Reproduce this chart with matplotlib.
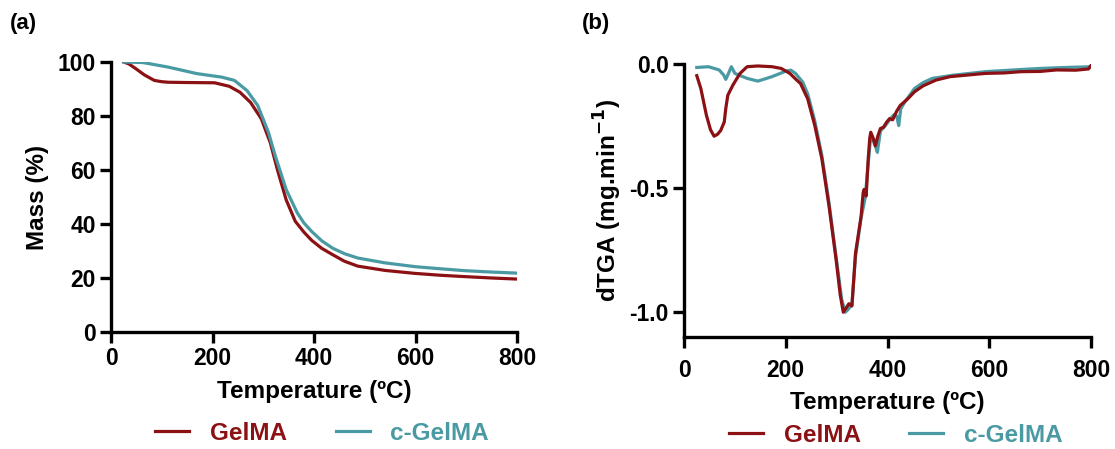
import matplotlib
matplotlib.use("Agg")
import matplotlib.pyplot as plt

plt.rcParams["font.family"] = ["Liberation Sans", "DejaVu Sans"]
plt.rcParams["font.weight"] = "bold"
plt.rcParams["mathtext.default"] = "bf"

RED = "#8c1114"
TEAL = "#4a9aa4"

# (a) TGA mass loss
tga_temp_gelma = [25, 35, 49, 65, 85, 100, 113, 150, 204, 233, 254, 275, 296, 314, 328,
                  345, 363, 380, 395, 415, 437, 460, 486, 540, 599, 650, 698, 750, 800]
tga_mass_gelma = [100, 99.3, 97.5, 95.3, 93.2, 92.7, 92.5, 92.4, 92.3, 91.0, 88.8, 85.0, 79.0,
                  70.0, 60.0, 49.0, 41.0, 37.0, 34.0, 31.0, 28.6, 26.2, 24.4, 22.8, 21.7,
                  21.0, 20.5, 20.0, 19.6]

tga_temp_cgelma = [25, 63, 113, 169, 218, 243, 268, 289, 310, 324, 345, 367, 380, 395, 415,
                   437, 460, 486, 540, 599, 650, 698, 750, 800]
tga_mass_cgelma = [100, 99.8, 98.1, 95.7, 94.4, 93.2, 89.4, 83.9, 74.0, 65.0, 52.8, 44.1,
                   40.4, 37.3, 33.8, 31.0, 29.0, 27.4, 25.6, 24.2, 23.4, 22.7, 22.2, 21.8]

# (b) derivative TGA
dtg_temp_gelma = [25, 33, 44, 52, 59, 66, 72, 79, 82, 86, 96, 110, 124, 145, 173, 191, 208,
                  220, 229, 243, 257, 271, 285, 299, 307, 313, 318, 324, 330, 337, 348, 352,
                  354, 358, 362, 365, 367, 372, 376, 381, 386, 392, 398, 404, 410, 418, 425,
                  440, 453, 470, 495, 523, 560, 592, 630, 662, 700, 732, 770, 795, 800]
dtg_rate_gelma = [-0.047, -0.099, -0.207, -0.265, -0.291, -0.283, -0.268, -0.234, -0.18,
                  -0.126, -0.085, -0.038, -0.011, -0.008, -0.011, -0.018, -0.038, -0.062,
                  -0.079, -0.14, -0.248, -0.383, -0.573, -0.79, -0.93, -1.0, -0.985, -0.966,
                  -0.975, -0.763, -0.614, -0.52, -0.505, -0.532, -0.383, -0.30, -0.275, -0.30,
                  -0.33, -0.29, -0.26, -0.255, -0.235, -0.22, -0.225, -0.19, -0.167, -0.14,
                  -0.112, -0.088, -0.065, -0.051, -0.044, -0.038, -0.036, -0.031, -0.030,
                  -0.024, -0.025, -0.02, -0.006]

dtg_temp_cgelma = [25, 48, 69, 78, 82, 88, 93, 100, 124, 145, 173, 201, 210, 219, 233, 243,
                   257, 271, 285, 299, 310, 317, 322, 330, 337, 348, 356, 362, 367, 372, 376,
                   380, 386, 395, 404, 412, 418, 422, 426, 435, 453, 470, 488, 530, 592, 640,
                   700, 750, 800]
dtg_rate_cgelma = [-0.014, -0.011, -0.024, -0.045, -0.062, -0.035, -0.011, -0.038, -0.058,
                   -0.069, -0.051, -0.028, -0.025, -0.038, -0.072, -0.12, -0.23, -0.37, -0.56,
                   -0.78, -0.95, -1.0, -0.99, -0.97, -0.776, -0.62, -0.54, -0.40, -0.29,
                   -0.31, -0.33, -0.356, -0.27, -0.25, -0.225, -0.205, -0.21, -0.248, -0.18,
                   -0.15, -0.099, -0.075, -0.058, -0.045, -0.031, -0.025, -0.018, -0.014,
                   -0.011]

fig = plt.figure(figsize=(11.15, 4.49), dpi=100)
ax1 = fig.add_axes([0.0996, 0.2606, 0.3641, 0.6013])
ax2 = fig.add_axes([0.6135, 0.2494, 0.365, 0.6081])


def style_axis(ax):
    for side in ["top", "right"]:
        ax.spines[side].set_visible(False)
    for side in ["left", "bottom"]:
        ax.spines[side].set_linewidth(2.4)
    ax.tick_params(width=2.4, length=8, labelsize=16.5, pad=3)
    for lab in ax.get_xticklabels() + ax.get_yticklabels():
        lab.set_fontweight("bold")


# Panel (a)
ax1.plot(tga_temp_gelma, tga_mass_gelma, color=RED, lw=2.3, label="GelMA")
ax1.plot(tga_temp_cgelma, tga_mass_cgelma, color=TEAL, lw=2.3, label="c-GelMA")
ax1.set_xlim(0, 800)
ax1.set_ylim(0, 100)
ax1.set_xticks([0, 200, 400, 600, 800])
ax1.set_yticks([0, 20, 40, 60, 80, 100])
ax1.set_xlabel("Temperature (ºC)", fontsize=17.5, fontweight="bold", labelpad=7)
ax1.set_ylabel("Mass (%)", fontsize=17.5, fontweight="bold", labelpad=6)
style_axis(ax1)

# Panel (b)
ax2.plot(dtg_temp_cgelma, dtg_rate_cgelma, color=TEAL, lw=2.3, label="c-GelMA")
ax2.plot(dtg_temp_gelma, dtg_rate_gelma, color=RED, lw=2.3, label="GelMA")
ax2.set_xlim(0, 800)
ax2.set_ylim(-1.1, 0)
ax2.set_xticks([0, 200, 400, 600, 800])
ax2.set_yticks([0.0, -0.5, -1.0])
ax2.set_yticklabels(["0.0", "-0.5", "-1.0"])
ax2.set_xlabel("Temperature (ºC)", fontsize=17.5, fontweight="bold", labelpad=6)
ax2.set_ylabel("dTGA (mg.min$^{-1}$)", fontsize=17.5, fontweight="bold", labelpad=4)
style_axis(ax2)
ax2.tick_params(axis="x", pad=8)

# legends below each panel, text coloured like the lines
for ax, ypos in [(ax1, -0.375), (ax2, -0.36)]:
    handles, labels = ax.get_legend_handles_labels()
    order = [labels.index("GelMA"), labels.index("c-GelMA")]
    leg = ax.legend([handles[i] for i in order], [labels[i] for i in order],
                    loc="center", bbox_to_anchor=(0.52, ypos), ncol=2, frameon=False,
                    handlelength=1.4, handletextpad=0.85, columnspacing=2.0,
                    borderpad=0, prop={"weight": "bold", "size": 17.5})
    for txt, col in zip(leg.get_texts(), [RED, TEAL]):
        txt.set_color(col)

fig.text(0.009, 0.935, "(a)", fontsize=16, fontweight="bold")
fig.text(0.522, 0.935, "(b)", fontsize=16, fontweight="bold")

fig.savefig("out.png", dpi=100)
